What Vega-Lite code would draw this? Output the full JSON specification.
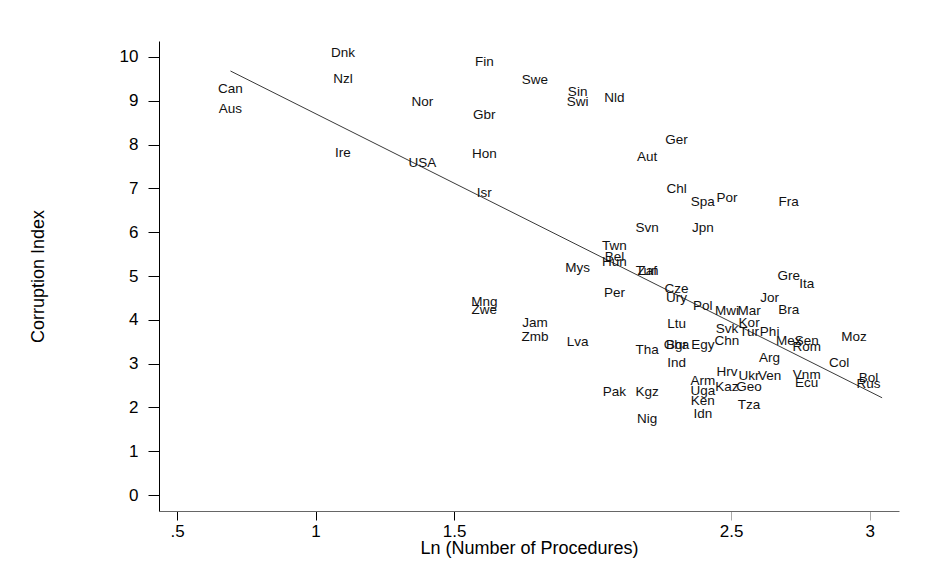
{
  "$schema": "https://vega.github.io/schema/vega-lite/v6.json",
  "width": 740,
  "height": 470,
  "autosize": {"type": "none"},
  "padding": {"left": 159, "top": 41, "right": 46, "bottom": 54},
  "background": "white",
  "config": {"view": {"stroke": null}, "font": "Liberation Sans"},
  "datasets": {
    "countries": [
      {"code": "Can", "lnproc": 0.693, "corruption": 9.27},
      {"code": "Aus", "lnproc": 0.693, "corruption": 8.81},
      {"code": "Dnk", "lnproc": 1.099, "corruption": 10.09},
      {"code": "Nzl", "lnproc": 1.099, "corruption": 9.5},
      {"code": "Ire", "lnproc": 1.099, "corruption": 7.81},
      {"code": "Nor", "lnproc": 1.386, "corruption": 8.97},
      {"code": "USA", "lnproc": 1.386, "corruption": 7.58},
      {"code": "Fin", "lnproc": 1.609, "corruption": 9.89},
      {"code": "Gbr", "lnproc": 1.609, "corruption": 8.68},
      {"code": "Hon", "lnproc": 1.609, "corruption": 7.79},
      {"code": "Isr", "lnproc": 1.609, "corruption": 6.89},
      {"code": "Mng", "lnproc": 1.609, "corruption": 4.41},
      {"code": "Zwe", "lnproc": 1.609, "corruption": 4.22},
      {"code": "Swe", "lnproc": 1.792, "corruption": 9.47},
      {"code": "Jam", "lnproc": 1.792, "corruption": 3.93},
      {"code": "Zmb", "lnproc": 1.792, "corruption": 3.61},
      {"code": "Sin", "lnproc": 1.946, "corruption": 9.2},
      {"code": "Swi", "lnproc": 1.946, "corruption": 8.97},
      {"code": "Mys", "lnproc": 1.946, "corruption": 5.18},
      {"code": "Lva", "lnproc": 1.946, "corruption": 3.49},
      {"code": "Nld", "lnproc": 2.079, "corruption": 9.06},
      {"code": "Twn", "lnproc": 2.079, "corruption": 5.68},
      {"code": "Bel", "lnproc": 2.079, "corruption": 5.43},
      {"code": "Hun", "lnproc": 2.079, "corruption": 5.32},
      {"code": "Per", "lnproc": 2.079, "corruption": 4.61},
      {"code": "Pak", "lnproc": 2.079, "corruption": 2.35},
      {"code": "Aut", "lnproc": 2.197, "corruption": 7.72},
      {"code": "Svn", "lnproc": 2.197, "corruption": 6.1},
      {"code": "Zaf", "lnproc": 2.197, "corruption": 5.11},
      {"code": "Tun", "lnproc": 2.197, "corruption": 5.11},
      {"code": "Tha", "lnproc": 2.197, "corruption": 3.31},
      {"code": "Kgz", "lnproc": 2.197, "corruption": 2.35},
      {"code": "Nig", "lnproc": 2.197, "corruption": 1.74},
      {"code": "Ger", "lnproc": 2.303, "corruption": 8.11},
      {"code": "Chl", "lnproc": 2.303, "corruption": 6.99},
      {"code": "Cze", "lnproc": 2.303, "corruption": 4.7},
      {"code": "Ury", "lnproc": 2.303, "corruption": 4.5},
      {"code": "Ltu", "lnproc": 2.303, "corruption": 3.9},
      {"code": "Gha", "lnproc": 2.303, "corruption": 3.42},
      {"code": "Bgr", "lnproc": 2.303, "corruption": 3.42},
      {"code": "Ind", "lnproc": 2.303, "corruption": 3.01},
      {"code": "Spa", "lnproc": 2.398, "corruption": 6.69},
      {"code": "Jpn", "lnproc": 2.398, "corruption": 6.1},
      {"code": "Pol", "lnproc": 2.398, "corruption": 4.32},
      {"code": "Egy", "lnproc": 2.398, "corruption": 3.42},
      {"code": "Arm", "lnproc": 2.398, "corruption": 2.6},
      {"code": "Uga", "lnproc": 2.398, "corruption": 2.37},
      {"code": "Ken", "lnproc": 2.398, "corruption": 2.15},
      {"code": "Idn", "lnproc": 2.398, "corruption": 1.85},
      {"code": "Por", "lnproc": 2.485, "corruption": 6.78},
      {"code": "Mwi", "lnproc": 2.485, "corruption": 4.2},
      {"code": "Svk", "lnproc": 2.485, "corruption": 3.79},
      {"code": "Chn", "lnproc": 2.485, "corruption": 3.52},
      {"code": "Hrv", "lnproc": 2.485, "corruption": 2.81},
      {"code": "Kaz", "lnproc": 2.485, "corruption": 2.47},
      {"code": "Mar", "lnproc": 2.565, "corruption": 4.2},
      {"code": "Kor", "lnproc": 2.565, "corruption": 3.93},
      {"code": "Tur", "lnproc": 2.565, "corruption": 3.72},
      {"code": "Ukr", "lnproc": 2.565, "corruption": 2.72},
      {"code": "Geo", "lnproc": 2.565, "corruption": 2.47},
      {"code": "Tza", "lnproc": 2.565, "corruption": 2.05},
      {"code": "Jor", "lnproc": 2.639, "corruption": 4.5},
      {"code": "Phi", "lnproc": 2.639, "corruption": 3.72},
      {"code": "Arg", "lnproc": 2.639, "corruption": 3.13},
      {"code": "Ven", "lnproc": 2.639, "corruption": 2.72},
      {"code": "Fra", "lnproc": 2.708, "corruption": 6.69},
      {"code": "Gre", "lnproc": 2.708, "corruption": 5.0},
      {"code": "Bra", "lnproc": 2.708, "corruption": 4.22},
      {"code": "Mex", "lnproc": 2.708, "corruption": 3.52},
      {"code": "Ita", "lnproc": 2.773, "corruption": 4.82},
      {"code": "Sen", "lnproc": 2.773, "corruption": 3.52},
      {"code": "Rom", "lnproc": 2.773, "corruption": 3.38},
      {"code": "Vnm", "lnproc": 2.773, "corruption": 2.74},
      {"code": "Ecu", "lnproc": 2.773, "corruption": 2.56},
      {"code": "Col", "lnproc": 2.89, "corruption": 3.01},
      {"code": "Moz", "lnproc": 2.944, "corruption": 3.61},
      {"code": "Bol", "lnproc": 2.996, "corruption": 2.67},
      {"code": "Rus", "lnproc": 2.996, "corruption": 2.53}
    ],
    "fit": [
      {"lnproc": 0.693, "corruption": 9.68},
      {"lnproc": 3.045, "corruption": 2.22}
    ]
  },
  "layer": [
    {
      "data": {"name": "fit"},
      "mark": {"type": "line", "color": "#222222", "strokeWidth": 0.9},
      "encoding": {
        "x": {
          "field": "lnproc",
          "type": "quantitative",
          "scale": {"domain": [0.435, 3.106], "nice": false, "zero": false},
          "axis": {
            "values": [0.5, 1, 1.5, 2.5, 3],
            "labelExpr": "datum.value == 0.5 ? '.5' : format(datum.value, '~g')",
            "grid": false,
            "domainColor": "#666666",
            "domainWidth": 1,
            "tickColor": {"condition": {"test": "datum.value > 2", "value": "#aaaaaa"}, "value": "#000000"},
            "tickSize": 9,
            "tickWidth": 1,
            "labelPadding": 3,
            "labelFontSize": 17,
            "labelColor": "#000000",
            "labelFlush": false,
            "title": "Ln (Number of Procedures)",
            "titleFontSize": 18,
            "titleFontWeight": "normal",
            "titleColor": "#000000",
            "titlePadding": 0
          }
        },
        "y": {
          "field": "corruption",
          "type": "quantitative",
          "scale": {"domain": [-0.365, 10.365], "nice": false, "zero": false},
          "axis": {
            "values": [0, 1, 2, 3, 4, 5, 6, 7, 8, 9, 10],
            "grid": false,
            "domainColor": "#000000",
            "domainWidth": 1,
            "tickColor": "#000000",
            "tickSize": 11,
            "labelPadding": 10,
            "labelFontSize": 17,
            "labelColor": "#000000",
            "labelFlush": false,
            "title": "Corruption Index",
            "titleFontSize": 18,
            "titleFontWeight": "normal",
            "titleColor": "#000000",
            "titlePadding": 72
          }
        }
      }
    },
    {
      "data": {"name": "countries"},
      "mark": {"type": "text", "fontSize": 13.5, "color": "#111111", "align": "center", "baseline": "middle"},
      "encoding": {
        "x": {"field": "lnproc", "type": "quantitative"},
        "y": {"field": "corruption", "type": "quantitative"},
        "text": {"field": "code"}
      }
    }
  ]
}
